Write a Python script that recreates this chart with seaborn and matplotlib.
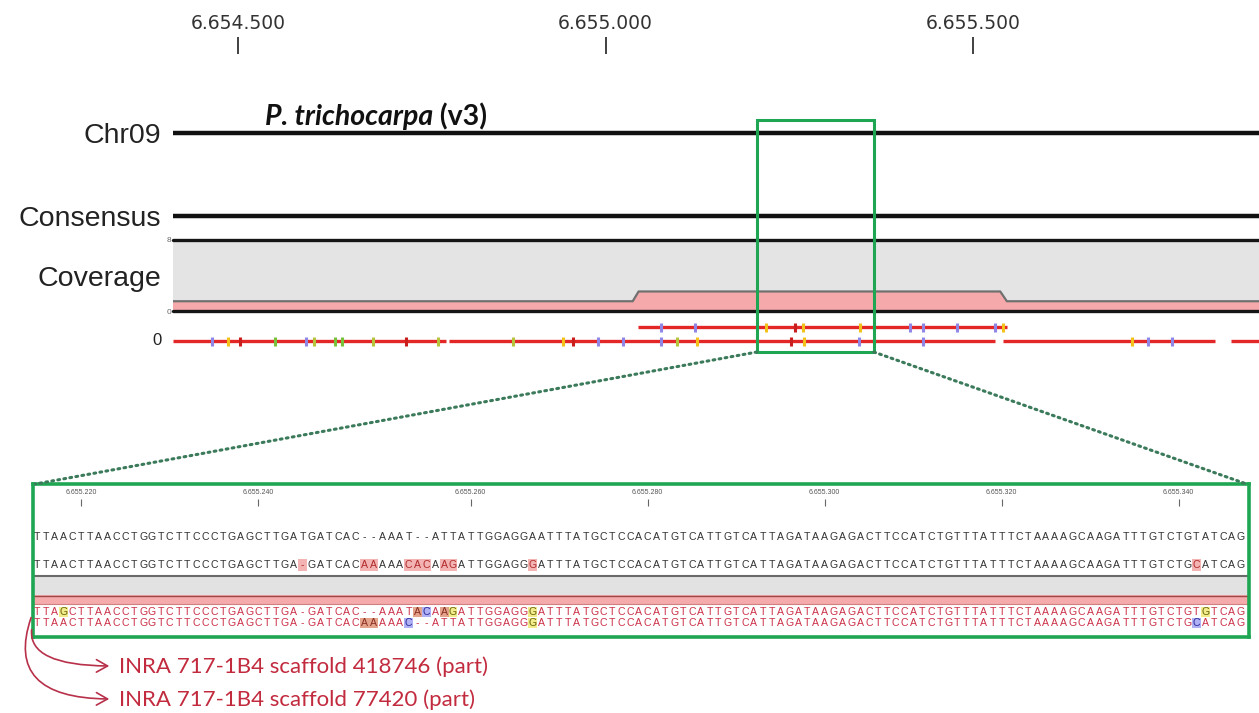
import matplotlib
matplotlib.use("Agg")
import matplotlib.pyplot as plt
from matplotlib.patches import Rectangle, ConnectionPatch, FancyArrowPatch
import seaborn as sns

sns.set_theme(style="white")
plt.rcParams['font.family'] = ['Liberation Sans', 'DejaVu Sans']

W, H = 1259, 713

# ---------------- data ----------------
chrom_ticks = [6654500, 6655000, 6655500]
view_start, view_end = 6654411.6, 6655889.0

# coverage (scale 0-8)
cov_pos = [6654300, 6655037, 6655045, 6655537, 6655546, 6656000]
cov_val = [1.1, 1.1, 2.2, 2.2, 1.1, 1.1]

# scaffolds mapped on Chr09 (pieces between gaps)
low_read = [(6654300, 6654783), (6654787, 6655530), (6655541, 6655829), (6655851, 6656000)]
up_read = [(6655044, 6655546)]

low_var_pos = [6654465, 6654486, 6654503, 6654550, 6654593, 6654603, 6654632, 6654642,
               6654684, 6654729, 6654772, 6654874, 6654942, 6654956, 6654990, 6655024,
               6655076, 6655097, 6655125, 6655252, 6655270, 6655345, 6655432, 6655716,
               6655738, 6655771]
low_var_col = ['purple', 'yellow', 'red', 'green', 'purple', 'olive', 'green', 'green',
               'olive', 'red', 'olive', 'olive', 'yellow', 'red', 'purple', 'purple',
               'purple', 'olive', 'yellow', 'red', 'yellow', 'purple', 'purple', 'yellow',
               'purple', 'purple']
up_var_pos = [6655076, 6655122, 6655218, 6655258, 6655269, 6655346, 6655414, 6655432,
              6655478, 6655530, 6655541]
up_var_col = ['purple', 'purple', 'yellow', 'red', 'yellow', 'yellow', 'purple', 'purple',
              'purple', 'purple', 'yellow']

zoom_start, zoom_end = 6655206, 6655365

# zoomed alignment (first column = 6.655.215)
seq_start = 6655215
seq_chr09 = "TTAACTTAACCTGGTCTTCCCTGAGCTTGATGATCAC--AAAT--ATTATTGGAGGAATTTATGCTCCACATGTCATTGTCATTAGATAAGAGACTTCCATCTGTTTATTTCTAAAAGCAAGATTTGTCTGTATCAG"
seq_cons = "TTAACTTAACCTGGTCTTCCCTGAGCTTGA-GATCACAAAAACACAAGATTGGAGGGATTTATGCTCCACATGTCATTGTCATTAGATAAGAGACTTCCATCTGTTTATTTCTAAAAGCAAGATTTGTCTGCATCAG"
seq_418746 = "TTAGCTTAACCTGGTCTTCCCTGAGCTTGA-GATCAC--AAATACAAGATTGGAGGGATTTATGCTCCACATGTCATTGTCATTAGATAAGAGACTTCCATCTGTTTATTTCTAAAAGCAAGATTTGTCTGTGTCAG"
seq_77420 = "TTAACTTAACCTGGTCTTCCCTGAGCTTGA-GATCACAAAAAC--ATTATTGGAGGGATTTATGCTCCACATGTCATTGTCATTAGATAAGAGACTTCCATCTGTTTATTTCTAAAAGCAAGATTTGTCTGCATCAG"

labels_scaffold = ["INRA 717-1B4 scaffold 418746 (part)", "INRA 717-1B4 scaffold 77420 (part)"]

VAR_COLORS = {'purple': '#8f86e6', 'yellow': '#f2c21b', 'green': '#78c23a',
              'red': '#c81e1e', 'olive': '#b5c43a'}
BASE_BG = {'A': '#e4a48c', 'C': '#b0b0f4', 'G': '#f2ec8a', 'T': '#b0e0a0'}
BASE_FG = {'A': '#8a2e22', 'C': '#2a2a9a', 'G': '#6a6410', 'T': '#2a6a2a'}
GREEN = '#1fa653'
READ_RED = '#e32626'


def box(x0, y0, x1, y1):
    return [x0 / W, 1 - y1 / H, (x1 - x0) / W, (y1 - y0) / H]


fig = plt.figure(figsize=(W / 100, H / 100), dpi=100)

# ---------------- coverage track ----------------
ax_cov = fig.add_axes(box(173, 240, 1259, 311))
ax_cov.set_facecolor('#e4e4e4')
ax_cov.set_xlim(view_start, view_end)
ax_cov.set_ylim(0, 8)
ax_cov.fill_between(cov_pos, 0, cov_val, color='#f6a9ab', lw=0)
sns.lineplot(x=cov_pos, y=cov_val, color='#707070', lw=1.6, ax=ax_cov)
ax_cov.axhline(8, color='#151515', lw=2.4, clip_on=False)
ax_cov.axhline(0, color='#151515', lw=2.4, clip_on=False)
for s in ax_cov.spines.values():
    s.set_visible(False)
ax_cov.set_xticks([])
ax_cov.set_yticks([0, 8])
ax_cov.set_yticklabels(['0', '8'], fontsize=6, color='#666')
ax_cov.tick_params(axis='y', length=0, pad=1)

# ---------------- main tracks ----------------
ax = fig.add_axes(box(173, 54, 1259, 360))
ax.set_facecolor('none')
ax.set_xlim(view_start, view_end)
ax.set_ylim(360, 54)
for s in ax.spines.values():
    s.set_visible(False)

ax.xaxis.tick_top()
ax.set_xticks(chrom_ticks)
ax.set_xticklabels([f"{t:,}".replace(",", ".") for t in chrom_ticks],
                   family='DejaVu Sans')
ax.tick_params(axis='x', direction='out', length=12, width=1.3, colors='#333',
               pad=3, labelsize=13.5)

y_chr, y_cons, y_covlab, y_low, y_up = 133, 216, 276, 341, 327
ax.set_yticks([y_chr, y_cons, y_covlab, y_low - 2])
ax.set_yticklabels(['Chr09', 'Consensus', 'Coverage', '0'])
ax.tick_params(axis='y', length=0, pad=8.5, colors='#222')
for lbl, fs in zip(ax.get_yticklabels(), [20.5, 20.5, 20.5, 12]):
    lbl.set_fontsize(fs)

ax.hlines([y_chr, y_cons], view_start, view_end, color='#111', lw=3.2)

for a, b in low_read:
    ax.hlines(y_low, max(a, view_start), min(b, view_end), color=READ_RED, lw=2.4)
for a, b in up_read:
    ax.hlines(y_up, a, b, color=READ_RED, lw=2.4)

ax.vlines(low_var_pos, y_low - 4.5, y_low + 4.5,
          colors=[VAR_COLORS[c] for c in low_var_col], lw=2.2)
ax.vlines(up_var_pos, y_up - 4.5, y_up + 4.5,
          colors=[VAR_COLORS[c] for c in up_var_col], lw=2.2)

ax.add_patch(Rectangle((zoom_start, 120), zoom_end - zoom_start, 352 - 120,
                       fill=False, edgecolor=GREEN, lw=2.2, zorder=5, clip_on=False))

# ---------------- zoomed alignment ----------------
ncol = len(seq_chr09)
ax_z = fig.add_axes(box(33, 484, 1249, 637))
ax_z.set_xlim(-0.45, ncol - 0.05)
ax_z.set_ylim(637, 484)
ax_z.set_xticks([])
ax_z.set_yticks([])
for s in ax_z.spines.values():
    s.set_color(GREEN)
    s.set_linewidth(2.6)

ax_z.axhspan(576, 595, color='#e2e2e2', lw=0)
ax_z.axhspan(595, 604, color='#f5aaac', lw=0)
ax_z.axhline(575.5, color='#6a6a6a', lw=1.5)
ax_z.axhline(596, color='#a04848', lw=1)
ax_z.axhline(604, color='#d08080', lw=0.8)

# reference position ticks
pos, tick_cols, tick_pos = seq_start, [], []
for i, ch in enumerate(seq_chr09):
    if ch == '-':
        continue
    if pos % 20 == 0:
        tick_cols.append(i)
        tick_pos.append(pos)
    pos += 1
ax_z.vlines(tick_cols, 499, 506, color='#666', lw=0.8)
for c, p in zip(tick_cols, tick_pos):
    ax_z.text(c, 493, f"{p:,}".replace(",", "."), fontsize=5, color='#555',
              ha='center', va='center')

rows = [(seq_chr09, 537, '#333333', 12), (seq_cons, 565, '#333333', 12),
        (seq_418746, 612, '#cc3048', 10), (seq_77420, 623, '#cc3048', 10)]
for r, (seq, y, col, hh) in enumerate(rows):
    for i, ch in enumerate(seq):
        fg = col
        if r == 1 and ch != seq_chr09[i]:
            ax_z.bar(i, hh, bottom=y - hh / 2, width=1, color='#f3b3b3', lw=0)
            fg = '#b02a2a'
        elif r >= 2 and ch != '-' and ch != seq_chr09[i]:
            ax_z.bar(i, hh, bottom=y - hh / 2, width=1, color=BASE_BG[ch], lw=0)
            fg = BASE_FG[ch]
        ax_z.text(i, y, ch, fontsize=7.6, color=fg, ha='center', va='center')

con_kw = dict(color='#3b7a5a', lw=2.2, linestyle=(0, (0.6, 1.4)))
fig.add_artist(ConnectionPatch(xyA=(zoom_start, 352), coordsA=ax.transData,
                               xyB=(0.002, 1), coordsB=ax_z.transAxes, **con_kw))
fig.add_artist(ConnectionPatch(xyA=(zoom_end, 352), coordsA=ax.transData,
                               xyB=(0.998, 1), coordsB=ax_z.transAxes, **con_kw))

# ---------------- annotations ----------------
ax_o = fig.add_axes([0, 0, 1, 1], zorder=10)
ax_o.set_xlim(0, W)
ax_o.set_ylim(H, 0)
ax_o.axis('off')
ax_o.patch.set_visible(False)

t1 = ax_o.text(265, 125, "P. trichocarpa", family='Lato', fontsize=20.5,
               fontweight='bold', fontstyle='italic', va='baseline', color='#111')
ax_o.annotate(" (v3)", xy=(1, 0), xycoords=t1, family='Lato', fontsize=20.5,
              fontweight='bold', va='bottom', color='#111')

arrow_red = '#b8304a'
for (x0, y0), (x1, y1), ang in [((32, 627), (112, 666), 80), ((32, 615), (112, 699), 70)]:
    ax_o.add_patch(FancyArrowPatch((x0, y0), (x1, y1),
                                   connectionstyle=f"angle3,angleA={ang},angleB=0",
                                   arrowstyle="->,head_length=0.8,head_width=0.45",
                                   mutation_scale=10, color=arrow_red, lw=1.2))

for lab, yb in zip(labels_scaffold, [673, 706]):
    ax_o.text(119, yb, lab, family='Lato', fontsize=16, color='#c22a3e', va='baseline')

fig.savefig("out.png", dpi=100)
